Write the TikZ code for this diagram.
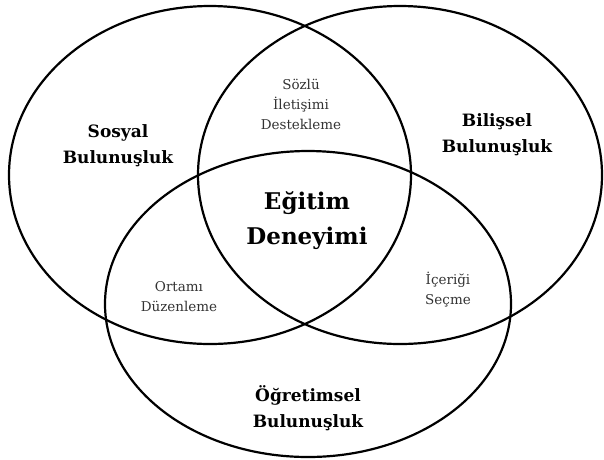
\documentclass[tikz,border=0pt]{standalone}
\usepackage{fontspec}
\setmainfont{DejaVu Serif}
\usepackage{tikz}
\usetikzlibrary{positioning}
\tikzstyle{set}=[draw,black,line width=2.2pt]
\tikzstyle{main}=[align=center,text=black,font=\bfseries\fontsize{17}{26}\selectfont]
\tikzstyle{core}=[align=center,text=black,font=\bfseries\fontsize{23}{35}\selectfont]
\tikzstyle{overlap}=[align=center,text=black!80,font=\fontsize{13.5}{20}\selectfont]

\begin{document}
\begin{tikzpicture}[x=1pt,y=-1pt]
	\useasboundingbox (0,0) rectangle (604,459);

% % % sets
	\path[set] (210,175) ellipse [x radius=201, y radius=169];
	\path[set] (400,175) ellipse [x radius=202, y radius=169];
	\path[set] (308,304) ellipse [x radius=203, y radius=153];

	\node[main] (sos) at (118,146) {Sosyal\\Bulunuşluk};
	\node[main] (bil) at (497,135) {Bilişsel\\Bulunuşluk};
	\node[main] (ogr) at (308,408) {Öğretimsel\\Bulunuşluk};

% % % overlaps
	\node[overlap] (soz) at (301,104) {Sözlü\\İletişimi\\Destekleme};
	\node[overlap] (ort) at (179,297) {Ortamı\\Düzenleme};
	\node[overlap] (ice) at (448,290) {İçeriği\\Seçme};

	\node[core] (egi) at (307,221) {Eğitim\\Deneyimi};

\end{tikzpicture}
\end{document}
